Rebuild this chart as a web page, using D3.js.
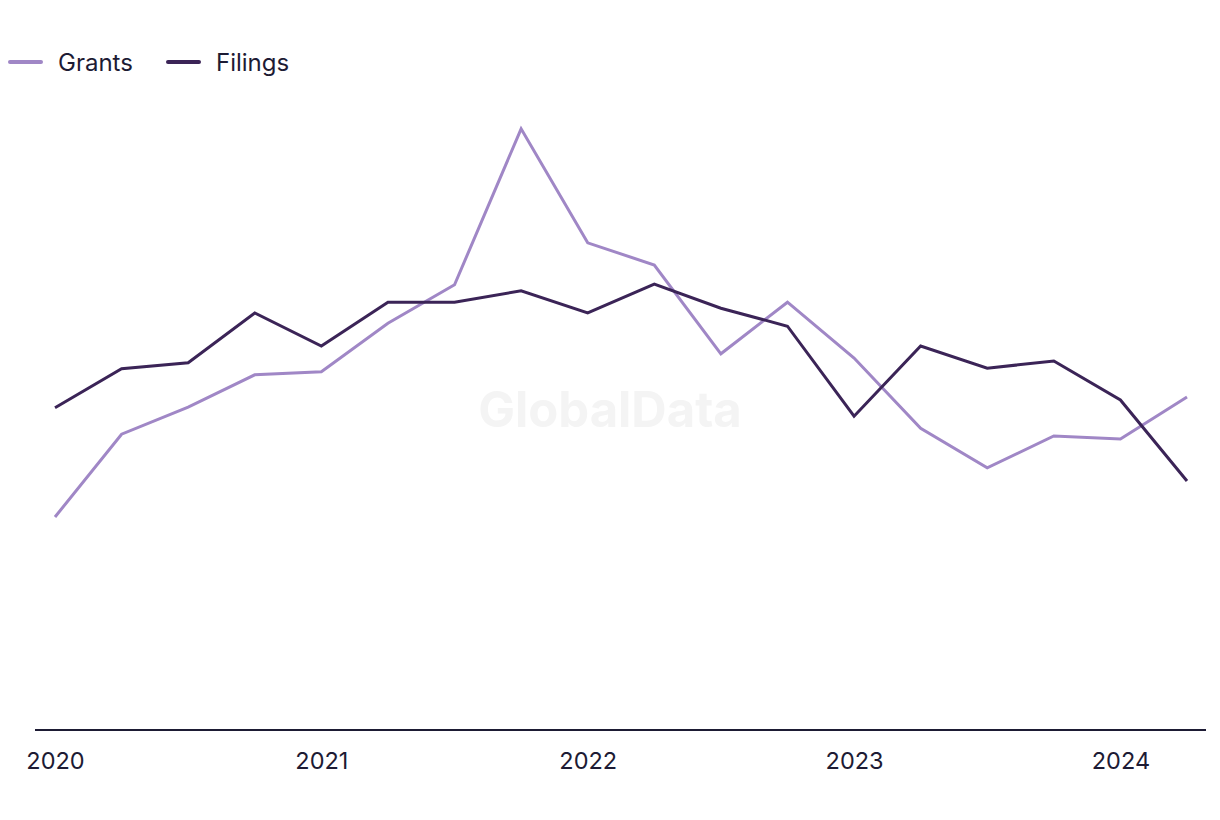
<!DOCTYPE html>
<html><head><meta charset="utf-8">
<script src="https://cdn.jsdelivr.net/npm/d3@7"></script>
<style>body{margin:0;background:#fff;}svg{display:block;font-family:Inter,"Noto Sans",sans-serif;}</style>
</head><body>
<svg id="chart" width="1220" height="820"></svg>
<script>
const quarters = ["2020Q1","2020Q2","2020Q3","2020Q4","2021Q1","2021Q2","2021Q3","2021Q4","2022Q1","2022Q2","2022Q3","2022Q4","2023Q1","2023Q2","2023Q3","2023Q4","2024Q1","2024Q2"];
const grants  = [35.5, 49.3, 53.8, 59.2, 59.7, 67.8, 74.2, 100.2, 81.2, 77.5, 62.7, 71.3, 62.0, 50.3, 43.7, 49.0, 48.5, 55.5];
const filings = [53.7, 60.2, 61.2, 69.5, 64.0, 71.3, 71.3, 73.2, 69.5, 74.3, 70.3, 67.3, 52.3, 64.0, 60.3, 61.5, 55.0, 41.5];
const yearTicks = ["2020","2021","2022","2023","2024"];
const seriesNames = ["Grants","Filings"];
const colors = ["#a087c6","#3b2457"];

const svg = d3.select("#chart");
const x = d3.scalePoint().domain(quarters).range([55, 1187]);
const y = d3.scaleLinear().domain([0, 100]).range([730, 130]);

// watermark
svg.append("text").attr("x", 610).attr("y", 427).attr("text-anchor","middle")
  .attr("font-size", 49).attr("font-weight", 700).attr("fill", "#f4f4f4").text("GlobalData");

// axis
const xAxis = d3.axisBottom(x).tickValues(yearTicks.map(yr => yr + "Q1")).tickFormat(d => d.slice(0,4)).tickSize(0).tickPadding(22);
const ag = svg.append("g").attr("transform","translate(0,730)").call(xAxis);
ag.select(".domain").remove();
ag.selectAll("text").attr("font-size", 23.5).attr("fill", "#1d1b34").attr("font-family","Inter,sans-serif");
svg.append("line").attr("x1",35).attr("x2",1206).attr("y1",730).attr("y2",730).attr("stroke","#1d1b34").attr("stroke-width",2);

const line = d3.line().x((d,i) => x(quarters[i])).y(d => y(d));
[grants, filings].forEach((s, k) => {
  svg.append("path").datum(s).attr("d", line).attr("fill","none")
    .attr("stroke", colors[k]).attr("stroke-width", 3).attr("stroke-linejoin","miter");
});

// legend
const legX = [10, 168];
seriesNames.forEach((n, k) => {
  const g = svg.append("g").attr("transform", `translate(${legX[k]},62)`);
  g.append("line").attr("x1",0).attr("x2",31).attr("stroke",colors[k]).attr("stroke-width",4).attr("stroke-linecap","round");
  g.append("text").attr("x",48).attr("y",8.5).attr("font-size",24).attr("fill","#1d1b34").text(n);
});
</script>
</body></html>
